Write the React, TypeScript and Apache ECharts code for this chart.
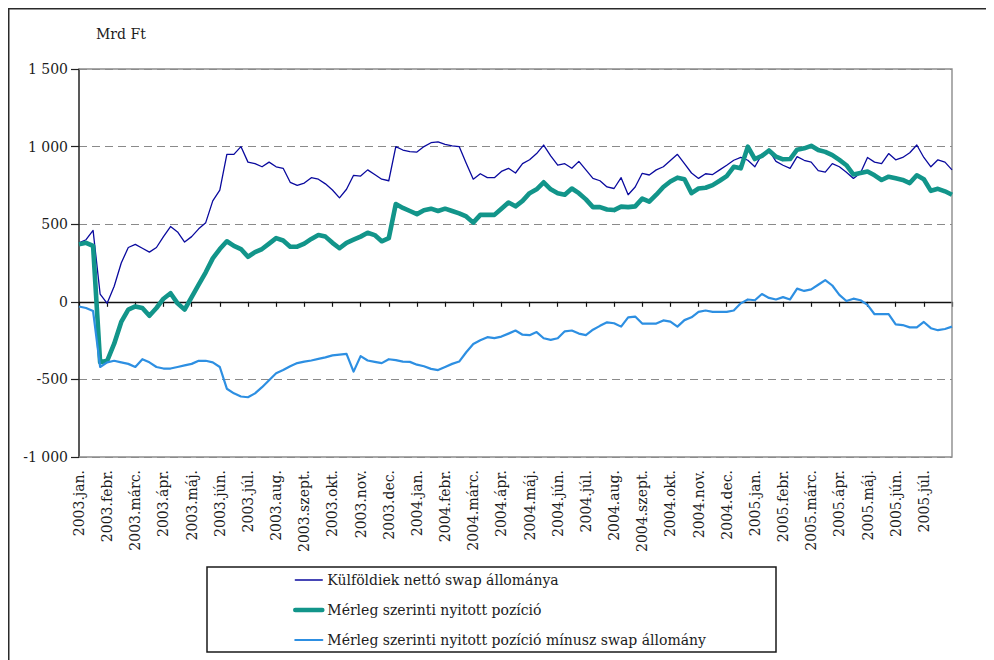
import React, { useEffect, useRef } from "react";
import * as echarts from "echarts";

// Month tick labels, 2003 January to 2005 July (one per month start)
const monthLabels = [
  "2003.jan.", "2003.febr.", "2003.márc.", "2003.ápr.", "2003.máj.", "2003.jún.",
  "2003.júl.", "2003.aug.", "2003.szept.", "2003.okt.", "2003.nov.", "2003.dec.",
  "2004.jan.", "2004.febr.", "2004.márc.", "2004.ápr.", "2004.máj.", "2004.jún.",
  "2004.júl.", "2004.aug.", "2004.szept.", "2004.okt.", "2004.nov.", "2004.dec.",
  "2005.jan.", "2005.febr.", "2005.márc.", "2005.ápr.", "2005.máj.", "2005.jún.",
  "2005.júl.",
];

// Observations are taken four times a month (quarter-month steps)
const STEPS_PER_MONTH = 4;
const MONTH_SPAN = 31;

const Y_MIN = -1000;
const Y_MAX = 1500;
const Y_STEP = 500;

const seriesNames = [
  "Külföldiek nettó swap állománya",
  "Mérleg szerinti nyitott pozíció",
  "Mérleg szerinti nyitott pozíció mínusz swap állomány",
];

// Mrd Ft
const swapStock = [
  380, 400, 460, 50, -10, 100, 250, 350,
  370, 345, 320, 350, 420, 485, 450, 385,
  420, 470, 510, 650, 720, 950, 950, 1000,
  900, 890, 870, 900, 870, 860, 770, 750,
  765, 800, 790, 760, 720, 670, 725, 815,
  810, 850, 820, 790, 780, 1000, 978, 968,
  965, 1000, 1025, 1030, 1015, 1005, 1000, 892,
  790, 825, 800, 800, 840, 860, 830, 890,
  915, 955, 1010, 940, 880, 890, 860, 905,
  850, 795, 780, 740, 730, 800, 690, 740,
  828, 817, 850, 870, 910, 950, 890, 830,
  795, 825, 820, 850, 880, 912, 930, 912,
  870, 950, 975, 905, 880, 860, 935, 912,
  900, 845, 835, 890, 870, 835, 795, 830,
  930, 900, 890, 955, 915, 930, 960, 1010,
  930, 870, 915, 900, 850,
];

const openPosition = [
  370, 380, 360, -390, -380, -270, -130, -50,
  -30, -40, -90, -40, 20, 55, -10, -50,
  30, 110, 190, 280, 340, 390, 360, 340,
  290, 320, 340, 375, 410, 395, 355, 355,
  375, 405, 430, 420, 380, 345, 380, 400,
  420, 445, 430, 390, 410, 630, 605, 585,
  565, 590, 600, 585, 600, 585, 570, 550,
  510, 560, 560, 560, 600, 640, 615, 650,
  700, 725, 770, 725, 700, 690, 730, 700,
  660, 610, 610, 595, 591, 613, 610, 615,
  665, 645, 690, 740, 775, 800, 790, 700,
  730, 735, 752, 780, 810, 870, 860, 1000,
  920, 940, 975, 935, 918, 920, 980, 989,
  1005, 978, 966, 945, 914, 880, 820, 830,
  840, 815, 785, 806, 796, 785, 765, 815,
  790, 715, 728, 712, 690,
];

const openMinusSwap = [
  -30, -40, -60, -420, -390, -380, -390, -400,
  -420, -370, -390, -420, -430, -430, -420, -410,
  -400, -380, -380, -390, -420, -560, -590, -610,
  -615, -590, -550, -505, -460, -440, -415, -395,
  -385, -378, -368, -358, -345, -340, -335, -450,
  -350, -378, -387, -395, -370, -376, -385, -387,
  -405, -415, -432, -440, -420, -400, -385, -325,
  -272, -248, -228, -234, -224, -205, -185, -212,
  -215, -195, -235, -245, -235, -190, -185, -205,
  -215, -180, -155, -132, -138, -160, -100, -95,
  -140, -140, -140, -120, -128, -160, -118, -100,
  -65, -56, -65, -65, -65, -56, -10, 15,
  10, 50, 25, 15, 30, 15, 85, 70,
  80, 110, 140, 105, 45, 5, 20, 10,
  -20, -80, -80, -80, -145, -150, -165, -165,
  -130, -170, -183, -175, -160,
];

const seriesColors = ["#0a0a9e", "#12958a", "#2d8fe2"];
const seriesWidths = [1.3, 4.6, 2.2];

const FONT = "'DejaVu Serif', 'Liberation Serif', serif";
const TEXT = "#1c1c1c";

// Plot rectangle inside the chart canvas
const GRID = { left: 71, top: 61, width: 873, height: 388 };

const toPoints = (vals: number[]) => vals.map((v, i) => [i / STEPS_PER_MONTH, v]);

const formatThousands = (v: number) => {
  const s = Math.abs(v).toString().replace(/\B(?=(\d{3})+(?!\d))/g, " ");
  return (v < 0 ? "-" : "") + s;
};

export default function App() {
  const ref = useRef<HTMLDivElement>(null);

  useEffect(() => {
    if (!ref.current) return;
    const chart = echarts.init(ref.current, undefined, { renderer: "svg" });

    const allValues = [swapStock, openPosition, openMinusSwap];
    const gx1 = GRID.left;
    const gy1 = GRID.top;
    const gx2 = GRID.left + GRID.width;
    const gy2 = GRID.top + GRID.height;

    chart.setOption({
      animation: false,
      backgroundColor: "#ffffff",
      grid: { ...GRID, show: false },
      xAxis: [
        {
          type: "value",
          min: 0,
          max: MONTH_SPAN,
          interval: 1,
          position: "bottom",
          axisLine: { show: false, onZero: false },
          axisTick: { show: false },
          splitLine: { show: false },
          axisLabel: {
            show: true,
            rotate: 90,
            margin: 13,
            fontFamily: FONT,
            fontSize: 14,
            color: TEXT,
            showMaxLabel: false,
            formatter: (v: number) => monthLabels[Math.round(v)] ?? "",
          },
        },
        {
          type: "value",
          min: 0,
          max: MONTH_SPAN,
          interval: 1,
          position: "bottom",
          axisLine: { show: true, onZero: true, lineStyle: { color: "#111111", width: 1.4 } },
          axisTick: { show: true, length: 5, lineStyle: { color: "#111111", width: 1.2 } },
          axisLabel: { show: false },
          splitLine: { show: false },
        },
      ],
      yAxis: {
        type: "value",
        min: Y_MIN,
        max: Y_MAX,
        interval: Y_STEP,
        axisLine: { show: true, lineStyle: { color: "#222222", width: 1.5 } },
        axisTick: { show: true, length: 8, lineStyle: { color: "#222222", width: 1.2 } },
        axisLabel: {
          margin: 11,
          fontFamily: FONT,
          fontSize: 14,
          color: TEXT,
          formatter: formatThousands,
        },
        splitLine: {
          show: true,
          lineStyle: { color: "#8a8a8a", width: 1.2, type: [8, 5] },
        },
      },
      legend: {
        orient: "vertical",
        left: 285,
        top: 565,
        padding: 0,
        itemWidth: 27,
        itemHeight: 14,
        itemGap: 16,
        selectedMode: false,
        textStyle: { fontFamily: FONT, fontSize: 14, color: TEXT },
        itemStyle: { opacity: 0 },
        data: seriesNames.map((name, i) => ({
          name,
          lineStyle: { width: seriesWidths[i], color: seriesColors[i], cap: "round" },
        })),
      },
      graphic: [
        // page frame (top and left edges)
        {
          type: "line",
          shape: { x1: 0, y1: 0.75, x2: 986, y2: 0.75 },
          style: { stroke: "#2a2a2a", lineWidth: 1.5 },
          silent: true,
        },
        {
          type: "line",
          shape: { x1: 0.75, y1: 0, x2: 0.75, y2: 652 },
          style: { stroke: "#2a2a2a", lineWidth: 1.5 },
          silent: true,
        },
        // plot area border: top, right and bottom sides in solid grey
        {
          type: "polyline",
          z: 1,
          shape: { points: [[gx1, gy1], [gx2, gy1], [gx2, gy2], [gx1, gy2]] },
          style: { stroke: "#8c8c8c", lineWidth: 1.4, fill: "none" },
          silent: true,
        },
        {
          type: "text",
          left: 88,
          top: 19,
          style: { text: "Mrd Ft", font: `14px ${FONT}`, fill: TEXT },
          silent: true,
        },
        // legend frame
        {
          type: "rect",
          shape: { x: 199, y: 559, width: 569, height: 85 },
          style: { fill: "none", stroke: "#1a1a1a", lineWidth: 1.5 },
          silent: true,
        },
      ],
      series: allValues.map((vals, i) => ({
        name: seriesNames[i],
        type: "line",
        xAxisIndex: 0,
        yAxisIndex: 0,
        symbol: "none",
        silent: true,
        z: 2 + i,
        lineStyle: { color: seriesColors[i], width: seriesWidths[i], join: "round" },
        itemStyle: { color: seriesColors[i] },
        emphasis: { disabled: true },
        data: toPoints(vals),
      })),
    });

    return () => chart.dispose();
  }, []);

  return <div ref={ref} style={{ width: 986, height: 652 }} />;
}
